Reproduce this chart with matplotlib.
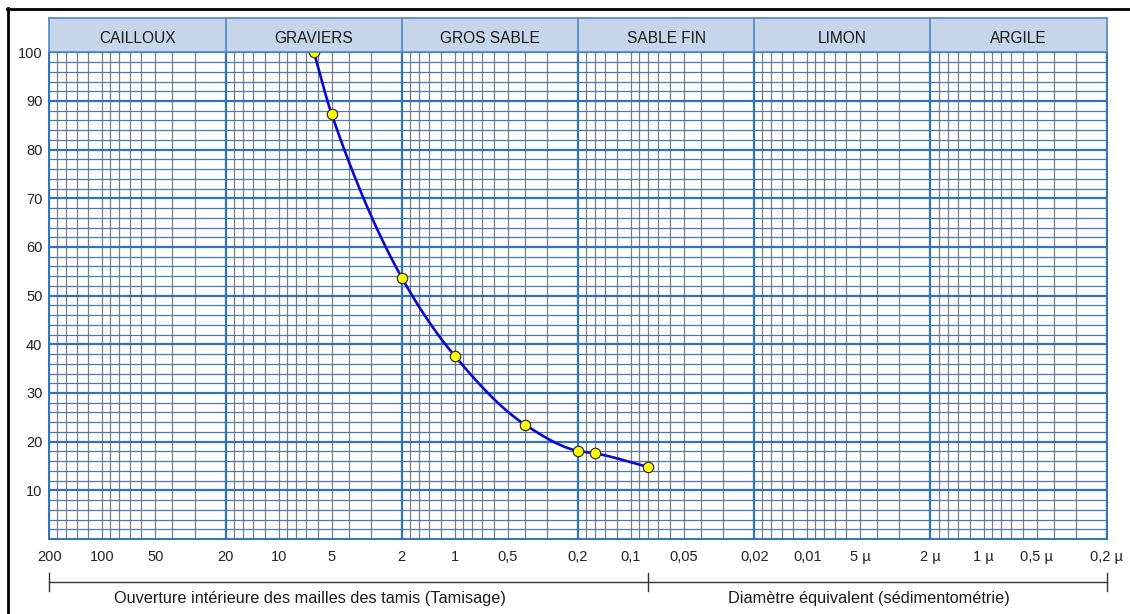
import numpy as np
import matplotlib
matplotlib.use("Agg")
import matplotlib.pyplot as plt
from matplotlib.lines import Line2D
import matplotlib.transforms as mtransforms

plt.rcParams['font.family'] = ['Liberation Sans', 'DejaVu Sans']

# ---------------- data ----------------
sieve_mm = [6.3, 5, 2, 1, 0.4, 0.2, 0.16, 0.08]
passing_pct = [100, 87.3, 53.7, 37.6, 23.5, 18.1, 17.6, 14.8]

class_names = ["CAILLOUX", "GRAVIERS", "GROS SABLE", "SABLE FIN", "LIMON", "ARGILE"]
class_bounds = [200, 20, 2, 0.2, 0.02, 0.002, 0.0002]

xtick_vals = [200, 100, 50, 20, 10, 5, 2, 1, 0.5, 0.2, 0.1, 0.05, 0.02, 0.01,
              0.005, 0.002, 0.001, 0.0005, 0.0002]
xtick_labels = ["200", "100", "50", "20", "10", "5", "2", "1", "0,5", "0,2", "0,1",
                "0,05", "0,02", "0,01", "5 µ", "2 µ", "1 µ", "0,5 µ", "0,2 µ"]
ytick_vals = [10, 20, 30, 40, 50, 60, 70, 80, 90, 100]

method_split_mm = 0.08
method_labels = ["Ouverture intérieure des mailles des tamis (Tamisage)",
                 "Diamètre équivalent (sédimentométrie)"]

# ---------------- figure ----------------
W, H = 1130, 614
fig = plt.figure(figsize=(W / 100, H / 100), dpi=100)

def fx(px):
    return px / W

def fy(py):
    return 1 - py / H

left_px, right_px, top_px, bot_px = 49.3, 1106.7, 52.3, 539.0
band_top_px = 18.3

ax = fig.add_axes([fx(left_px), fy(bot_px), fx(right_px - left_px), (bot_px - top_px) / H])
axb = fig.add_axes([fx(left_px), fy(top_px), fx(right_px - left_px), (top_px - band_top_px) / H],
                   sharex=ax)

ax.set_xscale('log')
ax.set_xlim(class_bounds[0], class_bounds[-1])
ax.set_ylim(0, 100)

major_blue = '#2f72bf'
minor_blue = '#4a79b3'
minor_gray = '#7d7d7d'

# minor vertical grid (log-paper multiples within each decade)
mults = [1, 1.2, 1.4, 1.6, 1.8, 3, 4, 5, 6, 7, 8, 9]
xmin, xmax = min(class_bounds), max(class_bounds)
for k in range(-5, 3):
    p = 10.0 ** k
    for m in mults:
        v = p * m
        if xmin * 1.001 < v < xmax * 0.999:
            ax.axvline(v, color=minor_gray, lw=0.9, zorder=1)

# minor horizontal grid every 2
for yv in np.arange(2, 100, 2):
    if yv % 10 != 0:
        ax.axhline(yv, color=minor_blue, lw=0.9, zorder=1.5)

# major grid
for yv in ytick_vals:
    ax.axhline(yv, color=major_blue, lw=1.6, zorder=2)
for xb in class_bounds:
    ax.axvline(xb, color=major_blue, lw=1.6, zorder=2)

for s in ax.spines.values():
    s.set_color(major_blue)
    s.set_linewidth(1.4)

# ticks
ax.set_yticks(ytick_vals)
ax.set_yticklabels([str(v) for v in ytick_vals], fontsize=10.5, color='#222222')
ax.set_xticks(xtick_vals)
ax.set_xticklabels(xtick_labels, fontsize=10.5, color='#222222')
ax.minorticks_off()
ax.tick_params(axis='both', length=0)
ax.tick_params(axis='y', pad=5)
ax.tick_params(axis='x', pad=8)

# ---------------- curve ----------------
def pchip(xk, yk, xq):
    xk = np.asarray(xk, float); yk = np.asarray(yk, float)
    h = np.diff(xk); d = np.diff(yk) / h
    n = len(xk)
    m = np.zeros(n)
    for i in range(1, n - 1):
        if d[i - 1] * d[i] > 0:
            w1 = 2 * h[i] + h[i - 1]; w2 = h[i] + 2 * h[i - 1]
            m[i] = (w1 + w2) / (w1 / d[i - 1] + w2 / d[i])
    m[0] = d[0]; m[-1] = d[-1]
    out = np.empty_like(xq)
    for j, x in enumerate(xq):
        i = min(max(np.searchsorted(xk, x) - 1, 0), n - 2)
        t = (x - xk[i]) / h[i]
        h00 = 2 * t**3 - 3 * t**2 + 1; h10 = t**3 - 2 * t**2 + t
        h01 = -2 * t**3 + 3 * t**2; h11 = t**3 - t**2
        out[j] = h00 * yk[i] + h10 * h[i] * m[i] + h01 * yk[i + 1] + h11 * h[i] * m[i + 1]
    return out

lx = -np.log10(np.array(sieve_mm))
yy = np.array(passing_pct, float)
lq = np.linspace(lx[0], lx[-1], 400)
yq = pchip(lx, yy, lq)
ax.plot(10 ** (-lq), yq, color='#0a0ad0', lw=1.9, zorder=5, clip_on=False)
ax.plot(sieve_mm, passing_pct, linestyle='none', marker='o', ms=7.5,
        mfc='#ffff00', mec='#333333', mew=0.9, zorder=6, clip_on=False)

# ---------------- header band ----------------
axb.set_ylim(0, 1)
axb.set_facecolor('#c6d5ea')
axb.tick_params(which='both', bottom=False, left=False, top=False, right=False,
                labelbottom=False, labelleft=False)
for s in axb.spines.values():
    s.set_color('#4f86c6')
    s.set_linewidth(1.2)
for i, name in enumerate(class_names):
    a, b = class_bounds[i], class_bounds[i + 1]
    xc = np.sqrt(a * b)
    axb.text(xc, 0.40, name, ha='center', va='center', fontsize=11.2, color='#1a1a1a')
    if i > 0:
        axb.axvline(a, color='#4f86c6', lw=1.2)

# ---------------- method brackets ----------------
trans = mtransforms.blended_transform_factory(ax.transData, ax.transAxes)
yb = (bot_px - 582) / (bot_px - top_px)
yt1 = (bot_px - 573) / (bot_px - top_px)
yt2 = (bot_px - 591) / (bot_px - top_px)
ax.plot([class_bounds[0], class_bounds[-1]], [yb, yb], transform=trans, color='#333333',
        lw=1.0, clip_on=False)
for xv in [class_bounds[0], method_split_mm, class_bounds[-1]]:
    ax.plot([xv, xv], [yt1, yt2], transform=trans, color='#333333', lw=1.0, clip_on=False)

ytxt = (bot_px - 598) / (bot_px - top_px)
ax.text(0.2466, ytxt, method_labels[0], transform=ax.transAxes, ha='center', va='center',
        fontsize=11.7, color='#1a1a1a')
ax.text(0.775, ytxt, method_labels[1], transform=ax.transAxes, ha='center', va='center',
        fontsize=11.7, color='#1a1a1a')

# ---------------- outer frame ----------------
fig.add_artist(Line2D([fx(6.5), 1.0], [fy(9.3), fy(9.3)], color='black', lw=2.0))
fig.add_artist(Line2D([fx(8.0), fx(8.0)], [0.0, fy(8.3)], color='black', lw=2.0))

fig.savefig('out.png', dpi=100)
